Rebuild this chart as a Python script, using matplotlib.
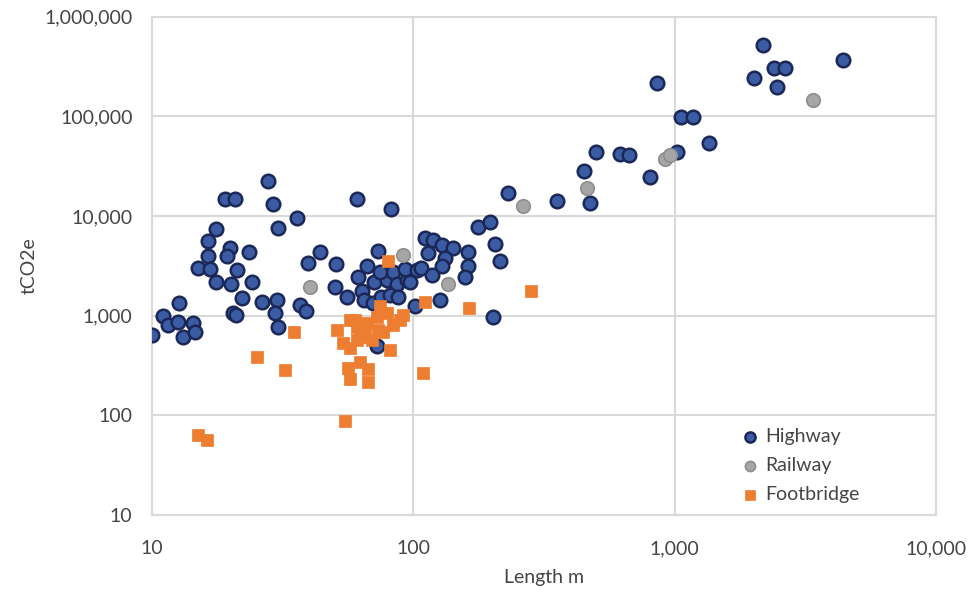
import matplotlib
matplotlib.use("Agg")
import matplotlib.pyplot as plt
from matplotlib.ticker import FixedLocator, FuncFormatter, NullLocator

plt.rcParams['font.family'] = ['Lato', 'DejaVu Sans']

# Bridge length (m) and embodied carbon (tCO2e) by bridge type
highway_len = [10.0, 11.0, 11.5, 12.6, 12.7, 13.1, 14.4, 14.6, 20.4, 21.0,
               22.1, 26.4, 30.1, 29.6, 30.3, 19.0, 20.8, 27.8, 29.0, 30.3,
               17.6, 16.4, 16.4, 15.0, 16.7, 19.9, 19.4, 23.5, 21.1, 17.6,
               20.1, 24.1, 35.9, 60.9, 82.2, 44.0, 39.5, 50.6, 50.1, 55.7,
               73.3, 36.8, 38.8, 61.4, 66.5, 70.8, 63.6, 64.7, 70.1, 75.2,
               79.3, 83.6, 86.6, 81.5, 94.6, 72.6, 93.0, 103.3, 107.0, 97.1,
               110.4, 118.9, 129.3, 141.9, 161.3, 113.8, 132.2, 161.3, 157.0, 129.3,
               117.9, 126.5, 101.9, 176.9, 196.6, 205.4, 214.7, 201.8, 74.6, 87.4,
               230.3, 354.6, 474, 450, 500, 618, 669, 805, 857, 1021,
               1058, 1175, 1354, 2014, 2178, 2400, 2646, 2466, 4411]
highway_co2 = [641, 1000, 809, 866, 1329, 605, 847, 680, 1067, 1020,
               1520, 1376, 1441, 1067, 763, 14890, 14890, 22560, 13260, 7620,
               7437, 5640, 3940, 3000, 2950, 4740, 3990, 4370, 2900, 2160,
               2060, 2160, 9480, 14890, 11810, 4370, 3350, 3310, 1923, 1545,
               4480, 1290, 1110, 2450, 3160, 2160, 1774, 1441, 1329, 1545,
               2288, 2720, 2060, 1620, 2288, 490, 2950, 2900, 3000, 2200,
               6040, 5770, 5170, 4820, 4370, 4280, 3760, 3160, 2450, 3160,
               2570, 1441, 1254, 7800, 8750, 5260, 3510, 973, 2720, 1545,
               17100, 14210, 13570, 28430, 44130, 42130, 41170, 24760, 217600, 44130,
               99100, 99100, 54300, 244000, 523600, 307600, 307600, 198300, 370000]

railway_len = [40.3, 91.3, 135.8, 263, 462, 919, 960, 3388]
railway_co2 = [1923, 4080, 2060, 12660, 19190, 37500, 41170, 146700]

footbridge_len = [15.0, 16.2, 25.2, 32.3, 34.9, 54.8, 51.0, 53.8, 57.2, 56.2,
                  57.2, 62.5, 67.1, 67.1, 59.8, 66.5, 72.6, 79.3, 73.3, 65.3,
                  60.9, 81.5, 91.3, 108.9, 62.5, 69.5, 76.6, 83.6, 80.0, 110.4,
                  163.4, 282, 74.6, 57.2, 60.9, 89.0]
footbridge_co2 = [63.6, 56.6, 386, 282, 680, 88, 720, 533, 475, 300,
                  232, 344, 290, 215, 907, 847, 973, 1067, 720, 680,
                  571, 454, 1020, 266, 605, 571, 690, 809, 3510, 1376,
                  1197, 1774, 1254, 907, 763, 907]

x_ticks = [10, 100, 1000, 10000]
y_ticks = [10, 100, 1000, 10000, 100000, 1000000]

fig = plt.figure(figsize=(9.74, 5.98), dpi=100)
ax = fig.add_axes([0.156, 0.139, 0.805, 0.833])

ax.set_xscale('log')
ax.set_yscale('log')
ax.set_xlim(10, 10000)
ax.set_ylim(10, 1000000)

grid_c = '#D9D9D9'
text_c = '#454545'
ax.xaxis.set_major_locator(FixedLocator(x_ticks))
ax.yaxis.set_major_locator(FixedLocator(y_ticks))
ax.xaxis.set_minor_locator(NullLocator())
ax.yaxis.set_minor_locator(NullLocator())
fmt = FuncFormatter(lambda v, p: f"{int(round(v)):,}")
ax.xaxis.set_major_formatter(fmt)
ax.yaxis.set_major_formatter(fmt)
ax.grid(True, which='major', color=grid_c, linewidth=1.5)
ax.set_axisbelow(True)
for s in ax.spines.values():
    s.set_color(grid_c)
    s.set_linewidth(1.5)
ax.tick_params(length=0, labelsize=14, colors=text_c)
ax.tick_params(axis='x', pad=18)
ax.tick_params(axis='y', pad=14)

ax.scatter(highway_len, highway_co2, s=95, marker='o', facecolor='#3B5CA3',
           edgecolor='#1B2757', linewidth=1.8, label='Highway', zorder=3)
ax.scatter(railway_len, railway_co2, s=95, marker='o', facecolor='#A6A6A6',
           edgecolor='#8E8E8E', linewidth=1.2, label='Railway', zorder=3)
ax.scatter(footbridge_len, footbridge_co2, s=80, marker='s', facecolor='#ED7D31',
           edgecolor='#ED7D31', linewidth=0.5, label='Footbridge', zorder=3)

ax.set_xlabel('Length m', fontsize=14, color=text_c, labelpad=9)
ax.set_ylabel('tCO2e', fontsize=14, color=text_c, labelpad=5)

leg = ax.legend(loc='upper left', bbox_to_anchor=(740 / 974, 1 - 428 / 598),
                bbox_transform=fig.transFigure, frameon=False,
                fontsize=14, handlelength=1.0, handletextpad=0.3,
                labelspacing=0.62, markerscale=0.75, borderpad=0.0,
                borderaxespad=0.0)
for t in leg.get_texts():
    t.set_color(text_c)

fig.savefig('out.png', dpi=100)
